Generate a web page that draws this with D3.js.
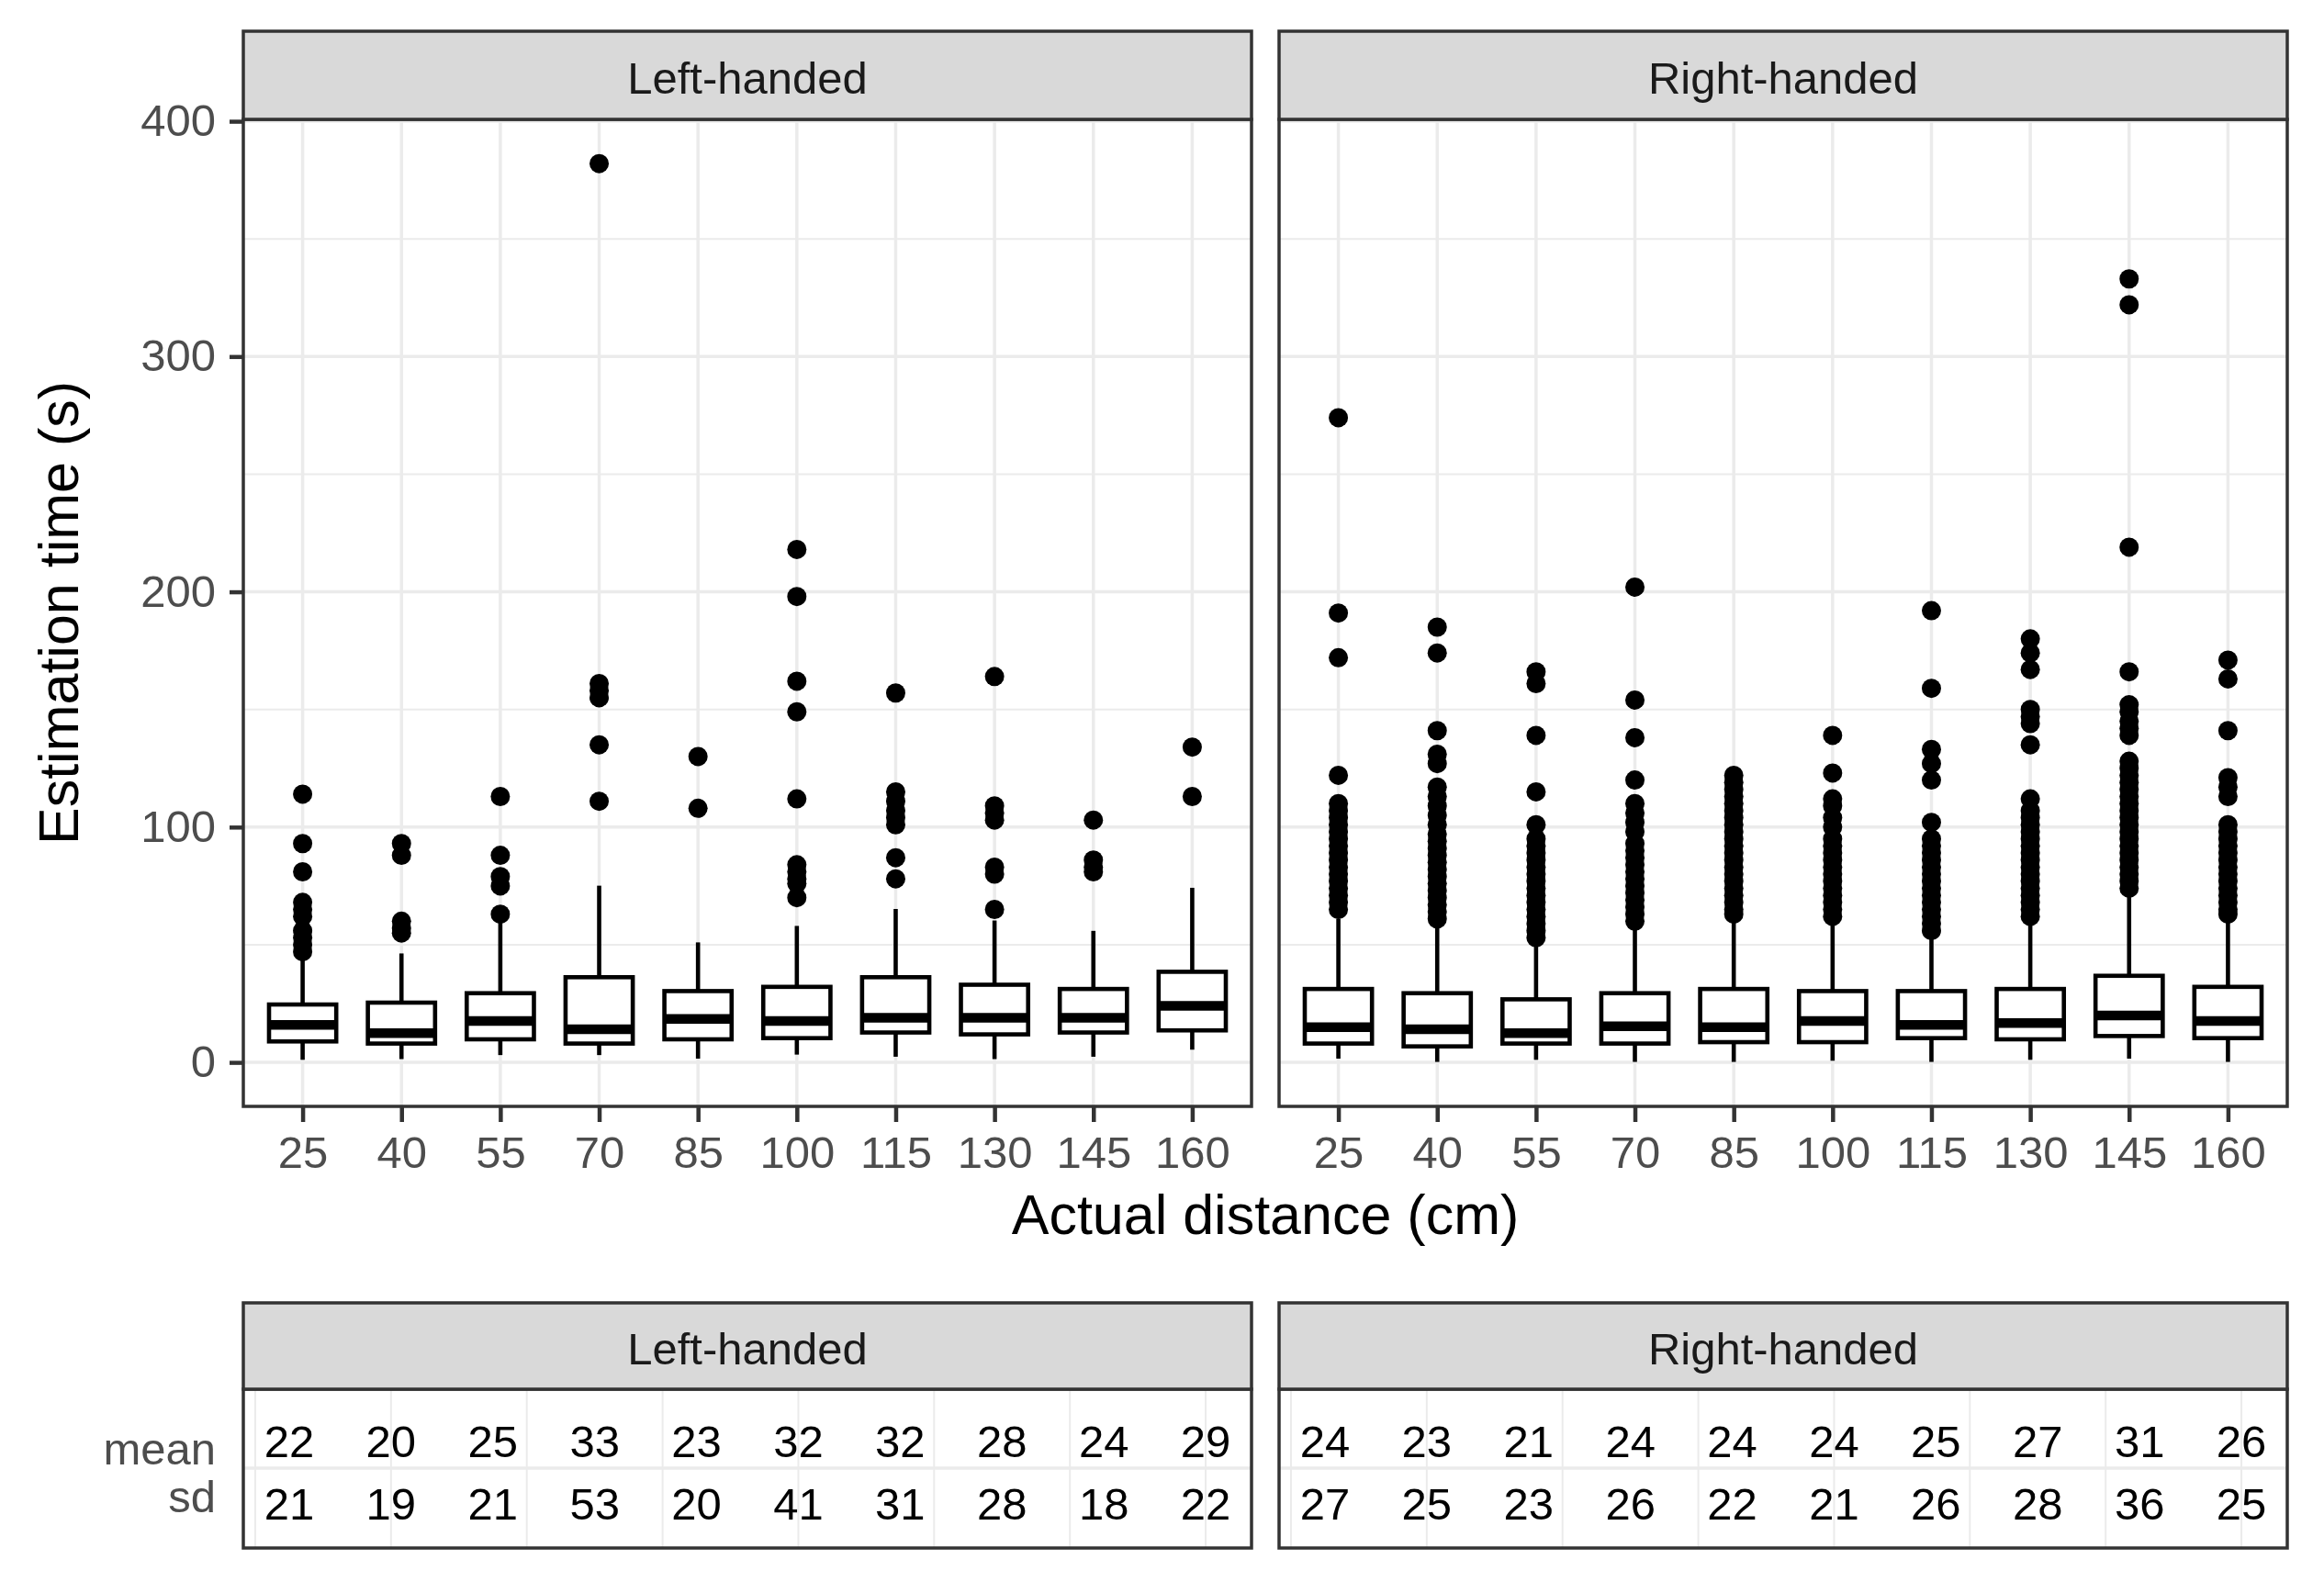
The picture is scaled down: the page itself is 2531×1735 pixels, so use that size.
<!DOCTYPE html>
<html>
<head>
<meta charset="utf-8">
<script src="https://cdn.jsdelivr.net/npm/d3@7"></script>
<style>
  body { margin: 0; background: #fff; }
  text { font-family: "Liberation Sans", Arial, sans-serif; }
</style>
</head>
<body>
<div id="chart"></div>
<script>
// data
var distances = [25, 40, 55, 70, 85, 100, 115, 130, 145, 160];
var hands = ["Left-handed", "Right-handed"];

// box stats: lower whisker, q1, median, q3, upper whisker
var leftLower  = [1.1, 1.4, 3.1, 3.1, 1.6, 3.3, 2.4, 1.4, 2.4, 5.4];
var leftQ1     = [8.9, 8.0, 9.8, 8.0, 9.8, 10.3, 12.7, 11.9, 12.7, 13.6];
var leftMedian = [15.9, 12.4, 17.6, 14.1, 18.5, 17.6, 19.0, 19.0, 19.0, 24.0];
var leftQ3     = [24.6, 25.4, 29.4, 36.2, 30.3, 32.1, 36.2, 33.0, 31.2, 38.5];
var leftUpper  = [43.7, 46.3, 60, 75.1, 51.0, 58.0, 65.2, 60.3, 55.9, 74.2];

var rightLower  = [1.6, 0.2, 1.1, 0.2, 0.2, 0.7, 0.2, 1.1, 1.6, 0.2];
var rightQ1     = [8.0, 6.8, 8.0, 8.0, 8.6, 8.6, 10.3, 9.8, 11.2, 10.3];
var rightMedian = [15.0, 14.1, 12.4, 15.3, 15.0, 17.6, 15.9, 16.7, 19.9, 17.6];
var rightQ3     = [31.2, 29.4, 26.8, 29.4, 31.2, 30.3, 30.3, 31.2, 36.8, 32.1];
var rightUpper  = [61.1, 60.3, 50.7, 57.7, 60.3, 60.3, 55.0, 61.1, 73.4, 62.9];

var leftOutliers = [
  [114, 93, 81, 68, 65, 62, 56, 53, 50, 47],
  [93, 88, 60, 57, 55],
  [113, 88, 79, 75, 63],
  [382, 161, 158, 155, 135, 111],
  [130, 108],
  [218, 198, 162, 149, 112, 84, 81, 78, 76, 70],
  [157, 115, 111, 107, 104, 101, 87, 78],
  [164, 109, 106, 103, 83, 80, 65],
  [103, 86, 83, 81],
  [134, 113]
];
var rightOutliers = [
  [274, 191, 172, 122, 110, 107, 104, 101, 98, 95, 92, 89, 86, 83, 80, 77, 74, 71, 68, 65],
  [185, 174, 141, 131, 127, 117, 113, 109, 105, 101, 97, 94, 91, 88, 85, 82, 79, 76, 73, 70, 67, 64, 61],
  [166, 161, 139, 115, 101, 95, 92, 89, 86, 83, 80, 77, 74, 71, 68, 65, 62, 59, 56, 53],
  [202, 154, 138, 120, 110, 106, 102, 98, 93, 90, 87, 84, 81, 78, 75, 72, 69, 66, 63, 60],
  [122, 119, 116, 113, 110, 107, 104, 101, 98, 95, 92, 89, 86, 83, 80, 77, 74, 71, 68, 65, 63],
  [139, 123, 112, 109, 104, 100, 95, 92, 89, 86, 83, 80, 77, 74, 71, 68, 65, 62],
  [192, 159, 133, 127, 120, 102, 95, 92, 89, 86, 83, 80, 77, 74, 71, 68, 65, 62, 59, 56],
  [180, 174, 167, 150, 147, 144, 135, 112, 107, 104, 101, 98, 95, 92, 89, 86, 83, 80, 77, 74, 71, 68, 65, 62],
  [333, 322, 219, 166, 152, 149, 145, 142, 139, 128, 125, 122, 119, 116, 113, 110, 107, 104, 101, 98, 95, 92, 89, 86, 83, 80, 77, 74],
  [171, 163, 141, 121, 117, 113, 101, 98, 95, 92, 89, 86, 83, 80, 77, 74, 71, 68, 65, 63]
];

// summary table
var statRows = ["mean", "sd"];
var leftMean  = [22, 20, 25, 33, 23, 32, 32, 28, 24, 29];
var leftSd    = [21, 19, 21, 53, 20, 41, 31, 28, 18, 22];
var rightMean = [24, 23, 21, 24, 24, 24, 25, 27, 31, 26];
var rightSd   = [27, 25, 23, 26, 22, 21, 26, 28, 36, 25];

var yTicks = [0, 100, 200, 300, 400];
var yMinor = [50, 150, 250, 350];
var tableGrid = [20, 40, 60, 80, 100, 120, 140, 160];

//layout
var w = 2531, h = 1735;
var panelX = [[265, 1363], [1393, 2491]];
var stripTop = 34, panelTop = 130, panelBottom = 1205;
var tStripTop = 1419, tPanelTop = 1513, tPanelBottom = 1686;
var gridCol = "#EBEBEB", borderCol = "#333333";
var lineW = 4.6;

var panels = [
  {name: hands[0], lower: leftLower, q1: leftQ1, med: leftMedian, q3: leftQ3, upper: leftUpper, out: leftOutliers, mean: leftMean, sd: leftSd},
  {name: hands[1], lower: rightLower, q1: rightQ1, med: rightMedian, q3: rightQ3, upper: rightUpper, out: rightOutliers, mean: rightMean, sd: rightSd}
];

var svg = d3.select("#chart").append("svg")
  .attr("width", w).attr("height", h);

var yScale = d3.scaleLinear()
  .domain([-18.7, 400.8])
  .range([panelBottom, panelTop]);

var tableY = d3.scalePoint()
  .domain(statRows)
  .range([1569, 1637]);

panels.forEach(function(p, pi) {
  var x0 = panelX[pi][0], x1 = panelX[pi][1];

  var xScale = d3.scalePoint()
    .domain(distances)
    .range([x0, x1])
    .padding(0.6);
  var boxW = xScale.step() * 0.68;

  var g = svg.append("g");

  // gridlines
  g.selectAll(".minor").data(yMinor).enter().append("line")
    .attr("x1", x0).attr("x2", x1)
    .attr("y1", function(d) { return yScale(d); })
    .attr("y2", function(d) { return yScale(d); })
    .attr("stroke", gridCol).attr("stroke-width", 2);
  g.selectAll(".major").data(yTicks).enter().append("line")
    .attr("x1", x0).attr("x2", x1)
    .attr("y1", function(d) { return yScale(d); })
    .attr("y2", function(d) { return yScale(d); })
    .attr("stroke", gridCol).attr("stroke-width", 3.5);
  g.selectAll(".vgrid").data(distances).enter().append("line")
    .attr("x1", function(d) { return xScale(d); })
    .attr("x2", function(d) { return xScale(d); })
    .attr("y1", panelTop).attr("y2", panelBottom)
    .attr("stroke", gridCol).attr("stroke-width", 3.5);

  var boxes = g.selectAll(".box").data(distances).enter().append("g");

  // whiskers
  boxes.append("line")
    .attr("x1", function(d) { return xScale(d); })
    .attr("x2", function(d) { return xScale(d); })
    .attr("y1", function(d, i) { return yScale(p.upper[i]); })
    .attr("y2", function(d, i) { return yScale(p.q3[i]); })
    .attr("stroke", "#000").attr("stroke-width", lineW);
  boxes.append("line")
    .attr("x1", function(d) { return xScale(d); })
    .attr("x2", function(d) { return xScale(d); })
    .attr("y1", function(d, i) { return yScale(p.q1[i]); })
    .attr("y2", function(d, i) { return yScale(p.lower[i]); })
    .attr("stroke", "#000").attr("stroke-width", lineW);

  // box
  boxes.append("rect")
    .attr("x", function(d) { return xScale(d) - boxW / 2; })
    .attr("width", boxW)
    .attr("y", function(d, i) { return yScale(p.q3[i]); })
    .attr("height", function(d, i) { return yScale(p.q1[i]) - yScale(p.q3[i]); })
    .attr("fill", "#fff").attr("stroke", "#000").attr("stroke-width", lineW);

  // median
  boxes.append("line")
    .attr("x1", function(d) { return xScale(d) - boxW / 2; })
    .attr("x2", function(d) { return xScale(d) + boxW / 2; })
    .attr("y1", function(d, i) { return yScale(p.med[i]); })
    .attr("y2", function(d, i) { return yScale(p.med[i]); })
    .attr("stroke", "#000").attr("stroke-width", 10.5);

  // outliers
  boxes.selectAll("circle")
    .data(function(d, i) { return p.out[i].map(function(v) { return {x: d, v: v}; }); })
    .enter().append("circle")
    .attr("cx", function(d) { return xScale(d.x); })
    .attr("cy", function(d) { return yScale(d.v); })
    .attr("r", 10.5)
    .attr("fill", "#000");

  // border + strip
  g.append("rect")
    .attr("x", x0).attr("y", panelTop)
    .attr("width", x1 - x0).attr("height", panelBottom - panelTop)
    .attr("fill", "none").attr("stroke", borderCol).attr("stroke-width", 3.5);
  g.append("rect")
    .attr("x", x0).attr("y", stripTop)
    .attr("width", x1 - x0).attr("height", panelTop - stripTop)
    .attr("fill", "#D9D9D9").attr("stroke", borderCol).attr("stroke-width", 3.5);
  g.append("text")
    .attr("x", (x0 + x1) / 2).attr("y", (stripTop + panelTop) / 2 + 3)
    .attr("dy", "0.35em")
    .attr("text-anchor", "middle")
    .attr("font-size", "49px")
    .attr("fill", "#1A1A1A")
    .text(p.name);

  // x axis
  var xAxis = d3.axisBottom(xScale).tickSize(17).tickPadding(15);
  var ax = svg.append("g")
    .attr("transform", "translate(0," + panelBottom + ")")
    .call(xAxis);
  ax.select(".domain").remove();
  ax.selectAll("line").attr("stroke", borderCol).attr("stroke-width", 4.5);
  ax.selectAll("text")
    .attr("font-size", "49px")
    .attr("font-family", "Liberation Sans, Arial, sans-serif")
    .attr("fill", "#4D4D4D");

  // table panel
  var tx = d3.scaleLinear()
    .domain([18.25, 166.75])
    .range([x0, x1]);
  var t = svg.append("g");
  t.append("rect")
    .attr("x", x0).attr("y", tPanelTop)
    .attr("width", x1 - x0).attr("height", tPanelBottom - tPanelTop)
    .attr("fill", "#fff");
  t.selectAll(".tg").data(tableGrid).enter().append("line")
    .attr("x1", function(d) { return tx(d); })
    .attr("x2", function(d) { return tx(d); })
    .attr("y1", tPanelTop).attr("y2", tPanelBottom)
    .attr("stroke", gridCol).attr("stroke-width", 2);
  t.append("line")
    .attr("x1", x0).attr("x2", x1)
    .attr("y1", (tableY("mean") + tableY("sd")) / 2 - 4)
    .attr("y2", (tableY("mean") + tableY("sd")) / 2 - 4)
    .attr("stroke", gridCol).attr("stroke-width", 3.5);

  [p.mean, p.sd].forEach(function(vals, ri) {
    t.selectAll(".row" + ri).data(vals).enter().append("text")
      .attr("x", function(d, i) { return tx(distances[i]); })
      .attr("y", tableY(statRows[ri]))
      .attr("dy", "0.36em")
      .attr("text-anchor", "middle")
      .attr("font-size", "49px")
      .attr("fill", "#000")
      .text(function(d) { return d; });
  });

  t.append("rect")
    .attr("x", x0).attr("y", tPanelTop)
    .attr("width", x1 - x0).attr("height", tPanelBottom - tPanelTop)
    .attr("fill", "none").attr("stroke", borderCol).attr("stroke-width", 3.5);
  t.append("rect")
    .attr("x", x0).attr("y", tStripTop)
    .attr("width", x1 - x0).attr("height", tPanelTop - tStripTop)
    .attr("fill", "#D9D9D9").attr("stroke", borderCol).attr("stroke-width", 3.5);
  t.append("text")
    .attr("x", (x0 + x1) / 2).attr("y", (tStripTop + tPanelTop) / 2 + 3)
    .attr("dy", "0.35em")
    .attr("text-anchor", "middle")
    .attr("font-size", "49px")
    .attr("fill", "#1A1A1A")
    .text(p.name);
});

// y axis
var yAxis = d3.axisLeft(yScale).tickValues(yTicks).tickSize(15).tickPadding(15);
var ay = svg.append("g")
  .attr("transform", "translate(" + panelX[0][0] + ",0)")
  .call(yAxis);
ay.select(".domain").remove();
ay.selectAll("line").attr("stroke", borderCol).attr("stroke-width", 4.5);
ay.selectAll("text")
  .attr("font-size", "49px")
  .attr("font-family", "Liberation Sans, Arial, sans-serif")
  .attr("fill", "#4D4D4D");

// table row labels
svg.append("text")
  .attr("x", 235).attr("y", tableY("mean") + 26)
  .attr("text-anchor", "end")
  .attr("font-size", "49px").attr("fill", "#4D4D4D")
  .text(statRows[0]);
svg.append("text")
  .attr("x", 235).attr("y", tableY("sd") + 10)
  .attr("text-anchor", "end")
  .attr("font-size", "49px").attr("fill", "#4D4D4D")
  .text(statRows[1]);

// axis titles
svg.append("text")
  .attr("x", (panelX[0][0] + panelX[1][1]) / 2).attr("y", 1344)
  .attr("text-anchor", "middle")
  .attr("font-size", "61px").attr("fill", "#000")
  .text("Actual distance (cm)");
svg.append("text")
  .attr("transform", "translate(85," + (panelTop + panelBottom) / 2 + ") rotate(-90)")
  .attr("text-anchor", "middle")
  .attr("font-size", "61px").attr("fill", "#000")
  .text("Estimation time (s)");
</script>
</body>
</html>
